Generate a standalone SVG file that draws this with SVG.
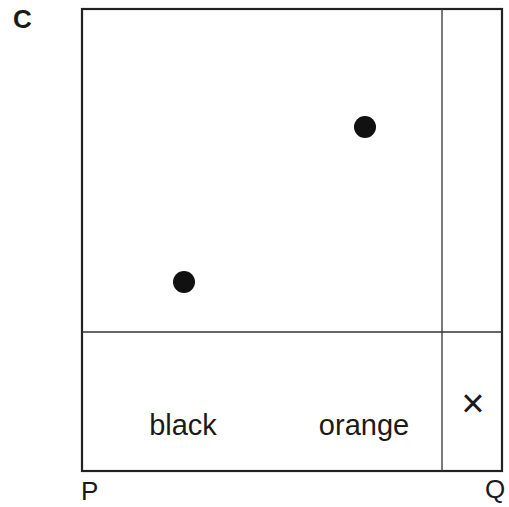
<svg xmlns="http://www.w3.org/2000/svg" width="509" height="507" viewBox="0 0 509 507">
<style>
text{font-family:"Liberation Sans",Arial,sans-serif;fill:#1a1a1a}
.lbl{font-size:29px}
.ax{font-size:26px}
.div{stroke:#333;stroke-width:1.3;fill:none}
.dot{fill:#111}
</style>
<rect width="509" height="507" fill="#fff"/>
<g id="frame">
<rect x="82" y="9" width="420" height="462" fill="none" stroke="#222" stroke-width="2.2"/>
</g>
<g id="connectors">
<line class="div" x1="82" y1="332" x2="502" y2="332"/>
<line class="div" x1="442" y1="9" x2="442" y2="471"/>
</g>
<g id="dot1"><circle class="dot" cx="184" cy="282" r="11"/></g>
<g id="dot2"><circle class="dot" cx="365" cy="127" r="11"/></g>
<g id="label-c"><text x="13" y="28" class="ax" font-weight="bold">C</text></g>
<g id="label-p"><text x="81" y="500" class="ax">P</text></g>
<g id="label-q"><text x="485" y="498" class="ax">Q</text></g>
<g id="label-black"><text x="183" y="435" class="lbl" text-anchor="middle">black</text></g>
<g id="label-orange"><text x="364" y="435" class="lbl" text-anchor="middle">orange</text></g>
<g id="label-x"><text x="473" y="417" font-size="40" text-anchor="middle">×</text></g>
</svg>
